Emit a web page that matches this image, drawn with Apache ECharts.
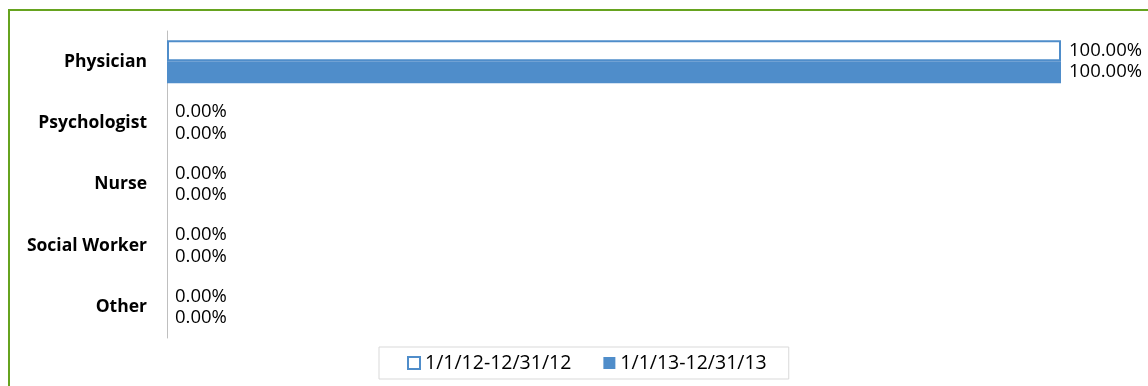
<!DOCTYPE html>
<html>
<head>
<meta charset="utf-8">
<script src="https://cdn.jsdelivr.net/npm/echarts@6/dist/echarts.min.js"></script>
<style>
  html, body { margin: 0; padding: 0; background: #ffffff; }
  #frame { position: absolute; left: 8px; top: 9px; width: 1160px; height: 400px;
           border: 2px solid #66a31f; box-sizing: border-box; }
  #chart { position: absolute; left: 0; top: 0; width: 1148px; height: 386px; }
</style>
</head>
<body>
<div id="frame"></div>
<div id="chart"></div>
<script>
// Share of visits by provider type, two reporting periods
const categories = ['Physician', 'Psychologist', 'Nurse', 'Social Worker', 'Other'];
const period2012 = [100, 0, 0, 0, 0];
const period2013 = [100, 0, 0, 0, 0];
const seriesNames = ['1/1/12-12/31/12', '1/1/13-12/31/13'];

const FONT = '"Open Sans", "Liberation Sans", sans-serif';
const BLUE = '#4f8dca';

const chart = echarts.init(document.getElementById('chart'), null, { renderer: 'canvas' });

const valueLabel = {
  show: true,
  position: 'right',
  distance: 8,
  color: '#000000',
  fontFamily: FONT,
  fontSize: 18.5,
  formatter: p => p.value.toFixed(2) + '%'
};

// hollow bars: no outline when the value is zero
const hollowData = period2012.map(v => ({
  value: v,
  itemStyle: v === 0 ? { borderWidth: 0 } : {}
}));

chart.setOption({
  animation: false,
  backgroundColor: 'transparent',
  grid: { left: 167, right: 87, top: 31, bottom: 48 },
  xAxis: {
    type: 'value', min: 0, max: 100,
    show: false
  },
  yAxis: {
    type: 'category',
    data: categories,
    inverse: true,
    axisLine: { show: true, lineStyle: { color: '#bfbfbf', width: 1 } },
    axisTick: { show: false },
    axisLabel: { color: '#000000', fontFamily: FONT, fontWeight: 'bold', fontSize: 17.5, margin: 20 }
  },
  legend: {
    bottom: 7,
    left: 379,
    data: seriesNames,
    itemWidth: 12, itemHeight: 12, itemGap: 32,
    icon: 'rect',
    borderColor: '#d9d9d9', borderWidth: 1,
    padding: [6, 22, 6, 28],
    textStyle: { color: '#000000', fontFamily: FONT, fontSize: 19.5 }
  },
  series: [
    {
      name: seriesNames[0], type: 'bar', data: hollowData,
      barWidth: 21, barGap: '0%',
      itemStyle: { color: '#ffffff', borderColor: BLUE, borderWidth: 2 },
      label: valueLabel
    },
    {
      name: seriesNames[1], type: 'bar', data: period2013,
      barWidth: 22,
      itemStyle: { color: BLUE },
      label: valueLabel
    }
  ]
});
</script>
</body>
</html>
